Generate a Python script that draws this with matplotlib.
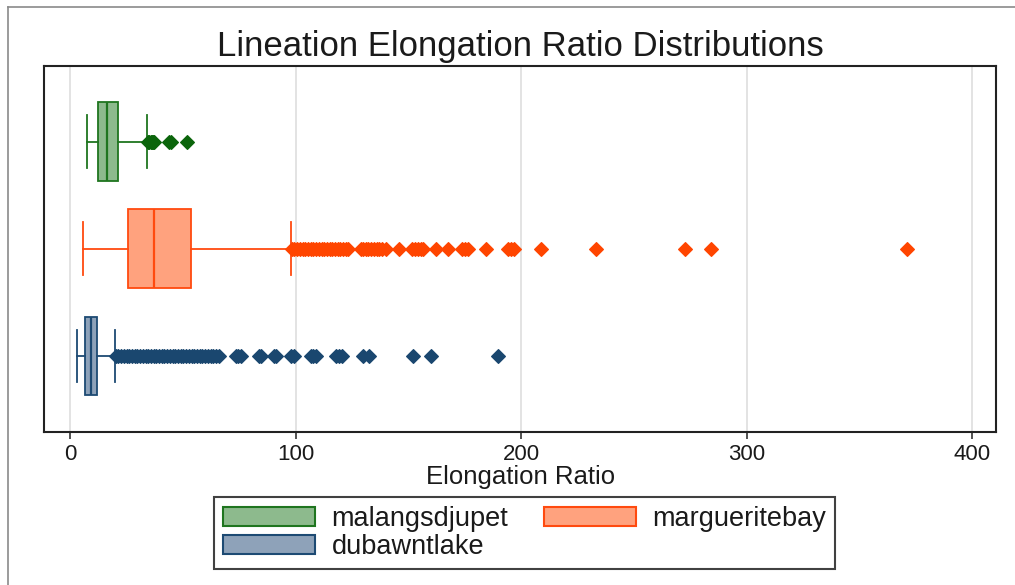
import matplotlib
matplotlib.use("Agg")
import matplotlib.pyplot as plt
from matplotlib.patches import Patch
from matplotlib.lines import Line2D

plt.rcParams['font.family'] = ['Liberation Sans', 'DejaVu Sans']

# --- data -------------------------------------------------------------
groups = ["malangsdjupet", "margueritebay", "dubawntlake"]
medians = [16.3, 37.3, 9.3]
q1 = [12.3, 25.6, 6.7]
q3 = [21.1, 53.6, 11.8]
whisker_low = [7.4, 5.6, 3.0]
whisker_high = [34.3, 97.9, 19.9]

outliers_malangsdjupet = [34.6, 35.2, 35.8, 36.4, 37.0, 37.4, 44.0, 44.8, 51.7]
outliers_margueritebay = [
    98.4, 99.5, 100.7, 101.9, 103.1, 104.3, 105.5, 106.7, 107.9, 109.1,
    110.3, 111.5, 112.7, 113.9, 115.1, 116.3, 117.5, 118.7, 119.9, 121.1,
    122.3, 123.3, 128.8, 129.9, 131.1, 132.3, 133.5, 134.7, 135.9, 137.1,
    138.3, 139.9, 145.8, 151.7, 152.9, 154.2, 155.4, 156.7, 162.2, 167.7,
    173.8, 175.0, 176.3, 184.4, 194.2, 195.6, 197.0, 208.8, 233.0, 272.6,
    284.2, 371.1,
]
outliers_dubawntlake = [
    20.4, 21.5, 22.7, 23.9, 25.1, 26.3, 27.5, 28.7, 29.9, 31.1, 32.3, 33.5,
    34.7, 35.9, 37.1, 38.3, 39.5, 40.7, 41.9, 43.1, 44.3, 45.5, 46.7, 47.9,
    49.1, 50.3, 51.5, 52.7, 53.9, 55.1, 56.3, 57.5, 58.7, 59.9, 61.1, 62.3,
    63.5, 64.7, 66.1, 73.6, 74.7, 75.7, 83.8, 84.8, 90.5, 91.3, 98.0, 99.3,
    106.8, 107.9, 108.9, 117.9, 119.3, 120.7, 129.7, 132.6, 152.2, 160.0,
    189.6,
]
outliers = [outliers_malangsdjupet, outliers_margueritebay, outliers_dubawntlake]

x_ticks = [0, 100, 200, 300, 400]

# --- styling ----------------------------------------------------------
fill_colors = ["#8dba8d", "#ffa27e", "#8ea2b9"]
edge_colors = ["#1f751f", "#ff4a0f", "#1d4a73"]
flier_colors = ["#0b650b", "#ff4500", "#1a476f"]
positions = [3, 2, 1]

fig = plt.figure(figsize=(10.15, 5.85), dpi=100)
ax = fig.add_axes([0.0436, 0.262, 0.9377, 0.6256])

stats = []
for i, name in enumerate(groups):
    stats.append(dict(label=name, med=medians[i], q1=q1[i], q3=q3[i],
                      whislo=whisker_low[i], whishi=whisker_high[i],
                      fliers=outliers[i]))

art = ax.bxp(stats, positions=positions, vert=False, widths=0.735,
             capwidths=0.49, patch_artist=True, showfliers=True,
             manage_ticks=False)

for i in range(len(groups)):
    box = art['boxes'][i]
    box.set_facecolor(fill_colors[i])
    box.set_edgecolor(edge_colors[i])
    box.set_linewidth(1.3)
    art['medians'][i].set_color(edge_colors[i])
    art['medians'][i].set_linewidth(1.6)
    for ln in art['whiskers'][2 * i:2 * i + 2] + art['caps'][2 * i:2 * i + 2]:
        ln.set_color(edge_colors[i])
        ln.set_linewidth(1.3)
    fl = art['fliers'][i]
    fl.set_marker('D')
    fl.set_markersize(6.8)
    fl.set_markerfacecolor(flier_colors[i])
    fl.set_markeredgecolor(flier_colors[i])
    fl.set_markeredgewidth(0.8)

ax.set_xlim(-11.4, 410.5)
ax.set_ylim(0.293, 3.707)
ax.set_xticks(x_ticks)
ax.set_xticklabels([str(t) for t in x_ticks])
ax.set_yticks([])
ax.xaxis.grid(True, color="#e3e3e3", linewidth=1.4)
ax.set_axisbelow(True)
ax.tick_params(axis='x', direction='out', length=5, width=1.1,
               color="#222222", labelsize=16, pad=4, labelcolor="#1a1a1a")
for sp in ax.spines.values():
    sp.set_color("#222222")
    sp.set_linewidth(1.5)

ax.set_xlabel("Elongation Ratio", fontsize=18.5, color="#1a1a1a")
ax.xaxis.set_label_coords(0.5, -0.09)
ax.xaxis.label.set_va('top')

fig.text(0.5123, 1 - 56 / 585, "Lineation Elongation Ratio Distributions",
         ha='center', va='baseline', fontsize=25, color="#1a1a1a")

# legend: row-wise order across two columns
handles = [Patch(facecolor=fill_colors[i], edgecolor=edge_colors[i],
                 linewidth=1.5, label=groups[i]) for i in range(3)]
order = [0, 2, 1]
leg = fig.legend([handles[i] for i in order], [groups[i] for i in order],
                 loc='center', bbox_to_anchor=(524.5 / 1015, 1 - 533 / 585),
                 ncol=2, fontsize=19.5, frameon=True, fancybox=False,
                 handlelength=3.4, handleheight=0.7, handletextpad=0.6,
                 columnspacing=1.3, labelspacing=0.05, borderpad=0.35,
                 borderaxespad=0)
leg.get_frame().set_edgecolor("#111111")
leg.get_frame().set_linewidth(1.5)
for t in leg.get_texts():
    t.set_color("#1a1a1a")

# thin frame along the top and left of the figure
fig.add_artist(Line2D([8 / 1015, 1], [1 - 7 / 585, 1 - 7 / 585],
                      transform=fig.transFigure, color="#8a8a8a", linewidth=1.2))
fig.add_artist(Line2D([8 / 1015, 8 / 1015], [0, 1 - 7 / 585],
                      transform=fig.transFigure, color="#8a8a8a", linewidth=1.2))

fig.savefig("out.png", dpi=100)
